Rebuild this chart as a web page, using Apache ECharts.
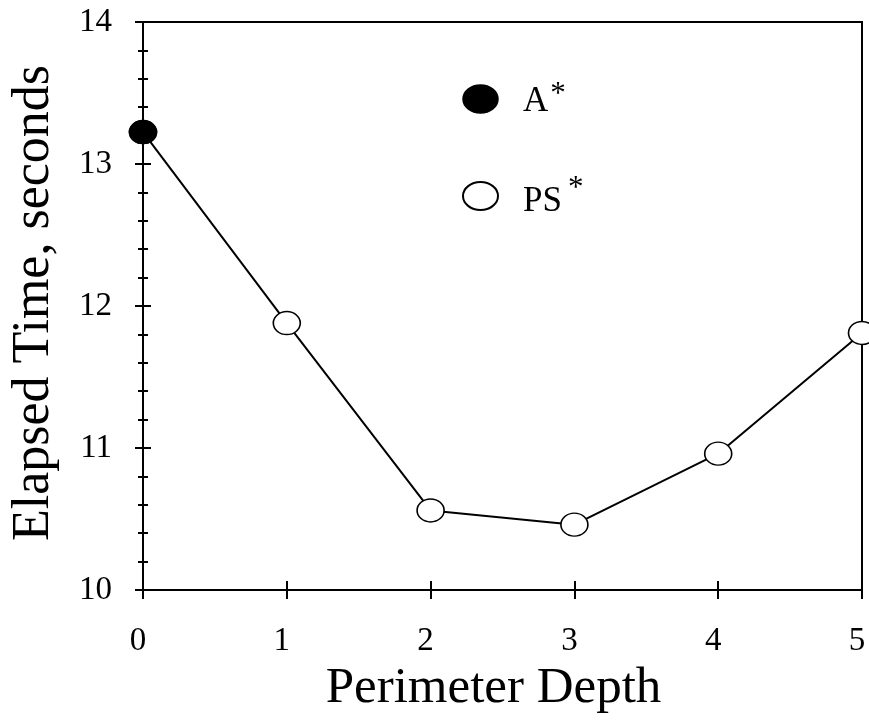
<!DOCTYPE html>
<html><head><meta charset="utf-8">
<script src="https://cdn.jsdelivr.net/npm/echarts@6/dist/echarts.min.js"></script>
<style>html,body{margin:0;padding:0;background:#fff}#c{width:869px;height:720px}</style>
</head><body><div id="c"></div>
<script>
var depths = [0, 1, 2, 3, 4, 5];
var psTimes = [13.225, 11.88, 10.56, 10.46, 10.96, 11.81];
var aDepths = [0];
var aTimes = [13.225];
var xTicks = ['0','1','2','3','4','5'];
var yRange = [10, 14];
var xTitle = 'Perimeter Depth';
var yTitle = 'Elapsed Time, seconds';
var F = 'Liberation Serif, Times New Roman, serif';

var chart = echarts.init(document.getElementById('c'), null, {renderer:'canvas'});
var psData = depths.map(function(d,i){ return [d, psTimes[i]]; });
var aData = aDepths.map(function(d,i){ return [d, aTimes[i]]; });
var ellipse = 'path://M0,14A17.5,14,0,1,1,35,14A17.5,14,0,1,1,0,14Z';

function xAx(inside, showLabel){
  return {type:'value', min:0, max:5, interval:1, position:'bottom',
    name: showLabel ? xTitle : '', nameLocation:'middle', nameGap:73,
    nameTextStyle:{fontFamily:F, fontSize:51, color:'#000', padding:[0,18,0,0]},
    axisLine:{show:true, lineStyle:{color:'#000', width:2}},
    axisTick:{show:true, inside:inside, length:9, lineStyle:{color:'#000', width:2}},
    axisLabel:{show:showLabel, margin:35, fontFamily:F, fontSize:33, color:'#000', padding:[0,10,0,0],
      formatter:function(v){ return xTicks[Math.round(v)]; }},
    splitLine:{show:false}};
}
function yAx(inside, showLabel){
  return {type:'value', min:yRange[0], max:yRange[1], interval:1, position:'left',
    name: showLabel ? yTitle : '', nameLocation:'middle', nameGap:83,
    nameTextStyle:{fontFamily:F, fontSize:52, color:'#000', padding:[0,0,0,6]},
    axisLine:{show:true, lineStyle:{color:'#000', width:2}},
    axisTick:{show:true, inside:inside, length:8, lineStyle:{color:'#000', width:2}},
    minorTick:{show:true, splitNumber:5, length:5, lineStyle:{color:'#000', width:2}},
    axisLabel:{show:showLabel, margin:31, fontFamily:F, fontSize:33, color:'#000'},
    splitLine:{show:false}, minorSplitLine:{show:false}};
}

chart.setOption({
  animation:false,
  backgroundColor:'#fff',
  grid:{left:143, top:22, right:7, bottom:130, outerBoundsMode:'none', containLabel:false,
    show:true, borderColor:'#000', borderWidth:2, backgroundColor:'transparent'},
  xAxis:[xAx(false,true), xAx(true,false)],
  yAxis:[yAx(false,true), yAx(true,false)],
  legend:{
    left:462, top:79, padding:0, orient:'vertical', itemGap:54, itemWidth:35, itemHeight:28,
    textStyle:{fontFamily:F, fontSize:35, color:'#000', padding:[0,0,0,20],
      rich:{b:{fontFamily:F, fontSize:35, color:'#000', verticalAlign:'bottom', lineHeight:40},
            c:{fontFamily:F, fontSize:35, color:'#000', verticalAlign:'bottom', lineHeight:46},
            s:{fontFamily:F, fontSize:31, color:'#000', verticalAlign:'top', lineHeight:20, padding:[0,0,0,2]},
            t:{fontFamily:F, fontSize:31, color:'#000', verticalAlign:'top', lineHeight:20, padding:[0,0,0,6]}}},
    formatter:function(n){ return n==='A*' ? '{b|A}{s|*}' : '{c|PS}{t|*}'; },
    data:[
      {name:'A*', icon:ellipse, itemStyle:{color:'#000', borderColor:'#000', borderWidth:1.5, opacity:1}},
      {name:'PS*', icon:ellipse, itemStyle:{color:'#fff', borderColor:'#000', borderWidth:2, opacity:1}}
    ]
  },
  series:[
    {name:'PS*', type:'line', data:psData, symbol:'circle', symbolSize:[27,23], showAllSymbol:true,
      lineStyle:{color:'#000', width:2}, itemStyle:{color:'#fff', borderColor:'#000', borderWidth:1.5, opacity:1},
      clip:false, z:2},
    {name:'A*', type:'scatter', data:aData, symbol:'circle', symbolSize:[27,23],
      itemStyle:{color:'#000', borderColor:'#000', borderWidth:1.5, opacity:1}, clip:false, z:3}
  ]
});
</script></body></html>
